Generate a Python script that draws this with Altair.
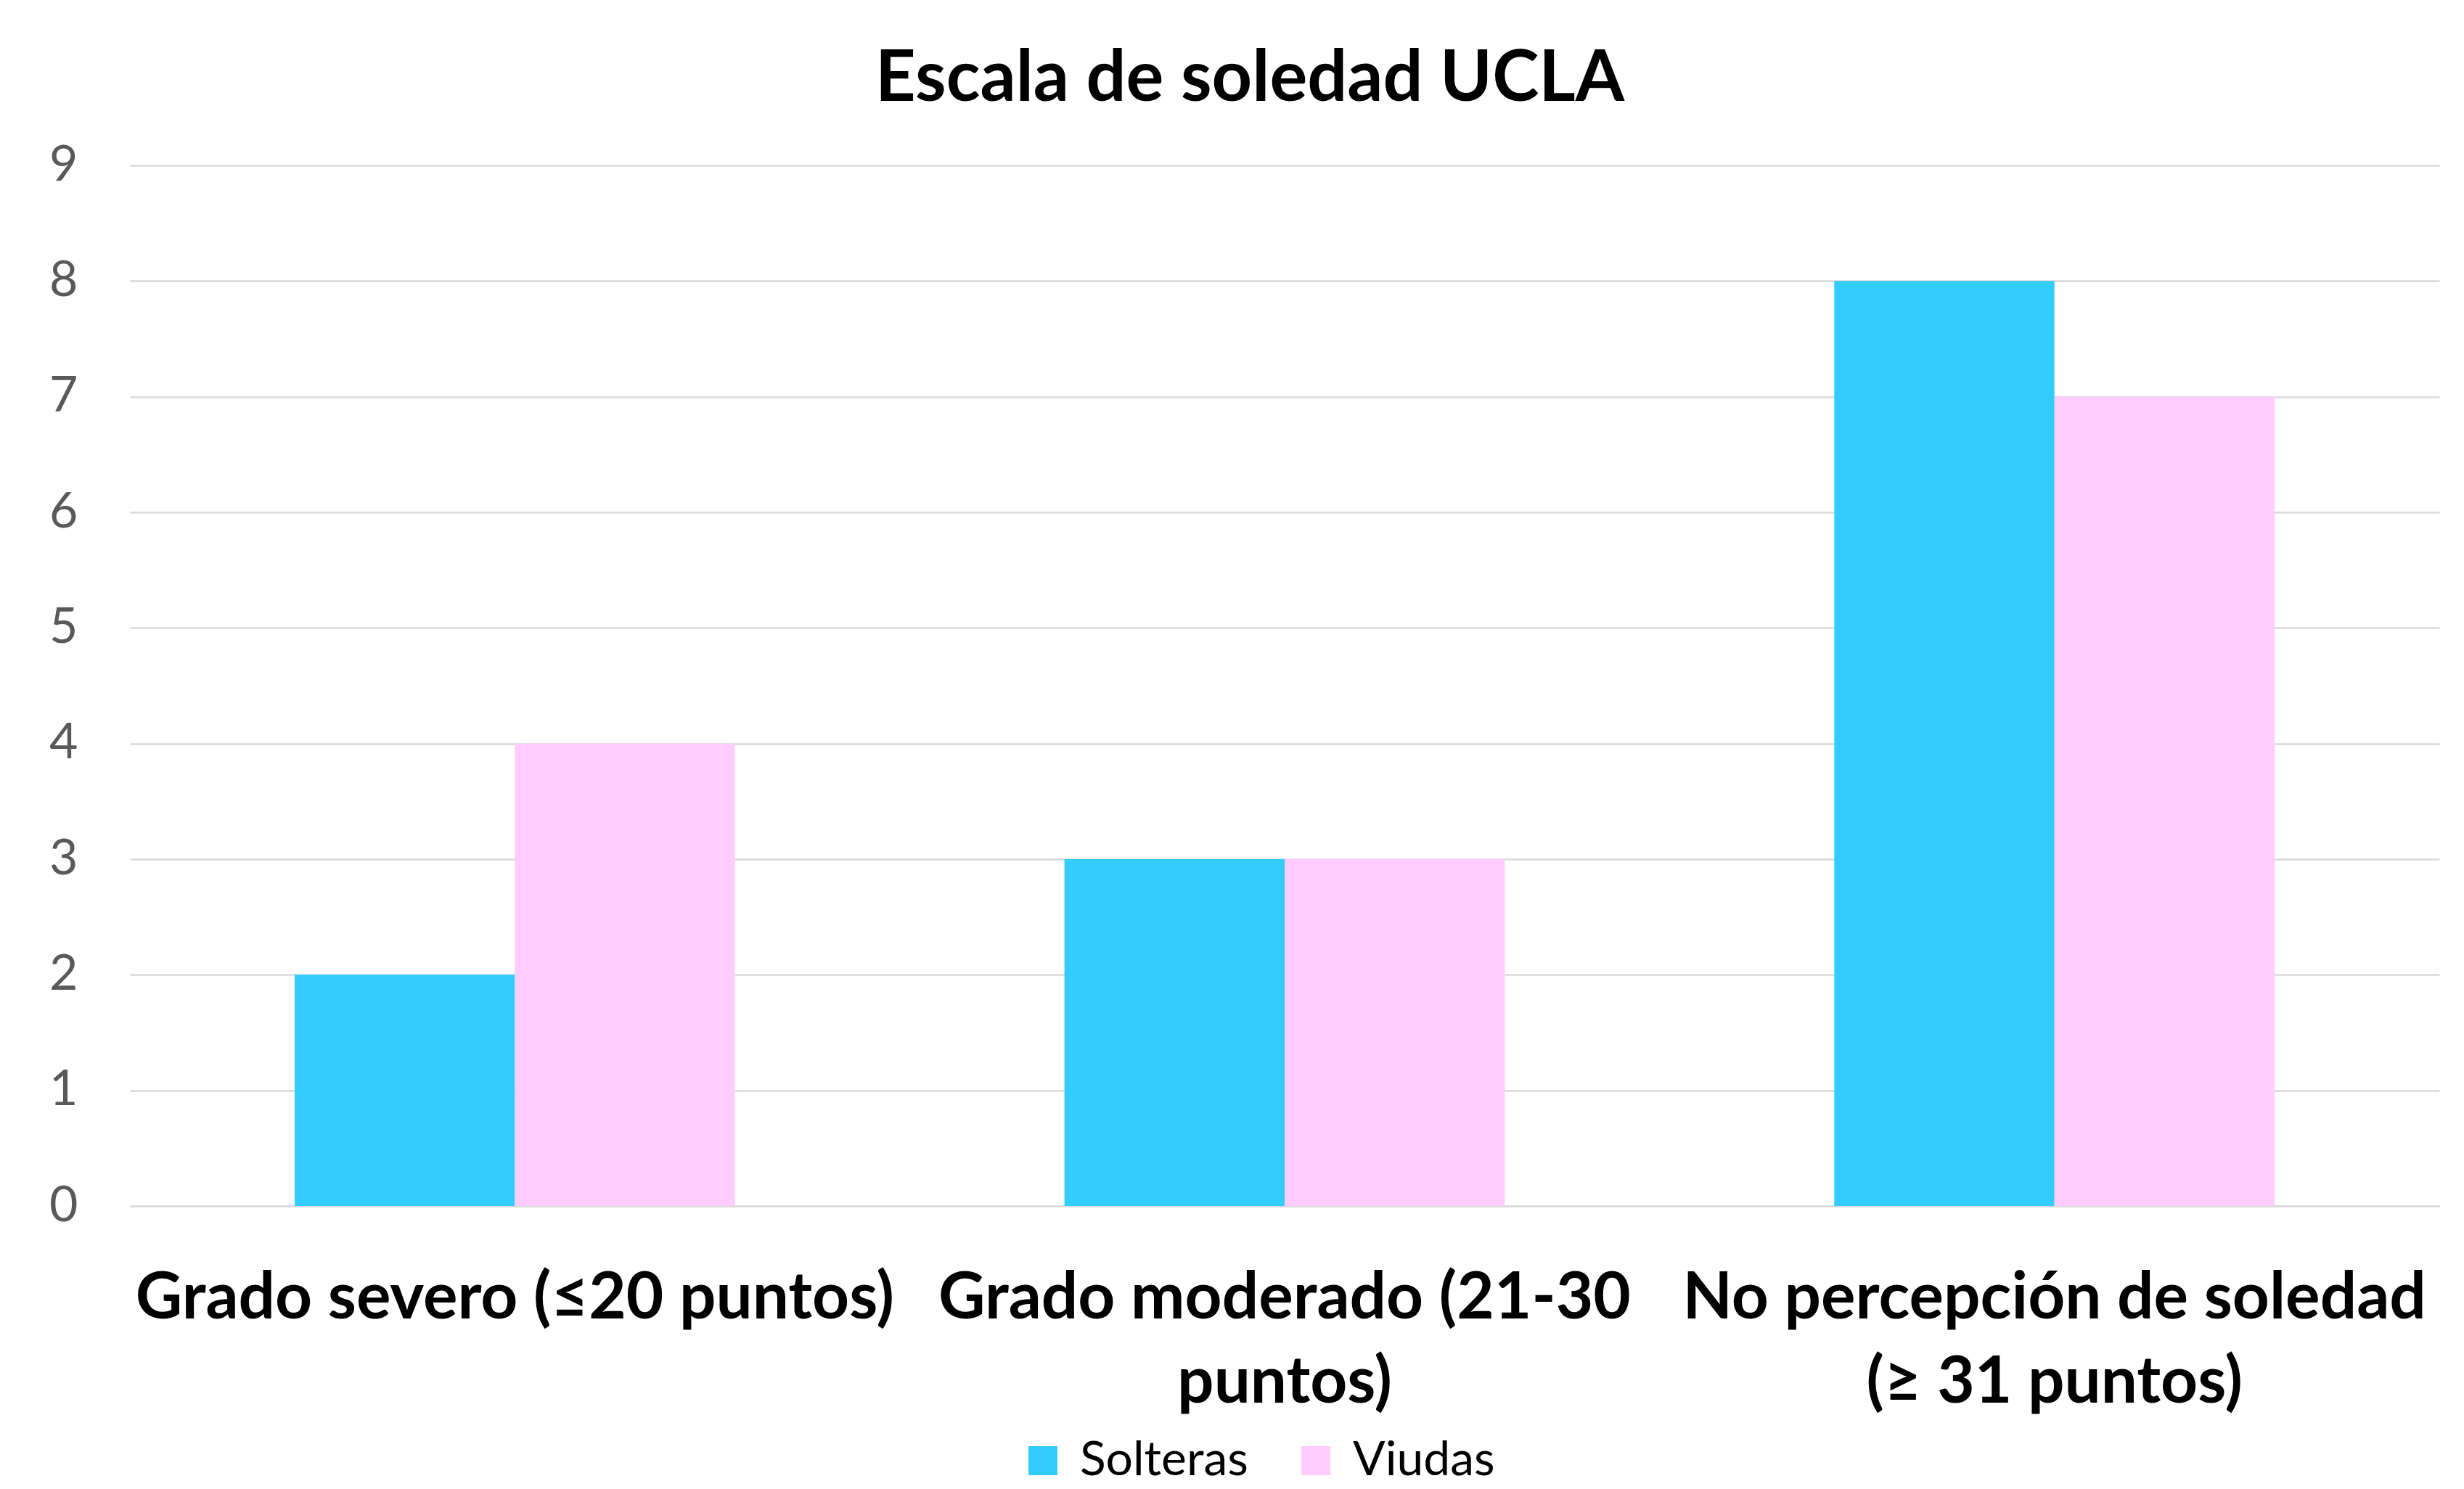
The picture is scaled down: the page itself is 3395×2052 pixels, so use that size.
import json
import altair as alt
import pandas as pd

# ---- data ----
categories = [
    "Grado severo (≤20 puntos)",
    "Grado moderado (21-30 puntos)",
    "No percepción de soledad (≥ 31 puntos)",
]
label_lines = [
    ["Grado severo (≤20 puntos)"],
    ["Grado moderado (21-30", "puntos)"],
    ["No percepción de soledad", "(≥ 31 puntos)"],
]
series = ["Solteras", "Viudas"]
solteras = [2, 3, 8]
viudas = [4, 3, 7]
colors = ["#33CCFF", "#FFCCFF"]
y_ticks = [0, 1, 2, 3, 4, 5, 6, 7, 8, 9]

rows = []
for c, s, v in zip(categories, solteras, viudas):
    rows.append({"cat": c, "serie": series[0], "val": s})
    rows.append({"cat": c, "serie": series[1], "val": v})
df = pd.DataFrame(rows)

expr = "datum.value"
for c, lines in reversed(list(zip(categories, label_lines))):
    arr = "[" + ",".join(json.dumps(l) for l in lines) + "]"
    expr = f"datum.value == {json.dumps(c)} ? {arr} : ({expr})"

FONT = "Lato"

chart = (
    alt.Chart(df)
    .mark_bar()
    .encode(
        x=alt.X(
            "cat:N",
            sort=categories,
            title=None,
            scale=alt.Scale(paddingInner=0.428, paddingOuter=0.214),
            axis=alt.Axis(
                labelExpr=expr,
                labelAngle=0,
                labelFont=FONT,
                labelFontSize=89,
                labelFontWeight="bold",
                labelColor="#000000",
                labelPadding=84,
                labelLineHeight=116,
                labelLimit=2000,
                ticks=False,
                domainColor="#D9D9D9",
                domainWidth=2.5,
                grid=False,
            ),
        ),
        xOffset=alt.XOffset("serie:N", sort=series),
        y=alt.Y(
            "val:Q",
            title=None,
            scale=alt.Scale(domain=[0, 9], nice=False),
            axis=alt.Axis(
                values=y_ticks,
                labelFont=FONT,
                labelFontSize=68,
                labelColor="#595959",
                labelPadding=72,
                ticks=False,
                domain=False,
                gridColor="#D9D9D9",
                gridWidth=2.5,
            ),
        ),
        color=alt.Color(
            "serie:N",
            sort=series,
            scale=alt.Scale(domain=series, range=colors),
            legend=alt.Legend(
                title=None,
                orient="none",
                legendX=1225,
                legendY=1752,
                direction="horizontal",
                symbolType="square",
                symbolSize=1600,
                symbolStrokeWidth=0,
                labelFont=FONT,
                labelFontSize=66,
                labelColor="#000000",
                labelOffset=18,
                labelLimit=1000,
                columnPadding=60,
            ),
        ),
    )
    .properties(
        width=3182,
        height=1434,
        padding={"left": 59, "top": 53, "right": 5, "bottom": 5},
        title=alt.TitleParams(
            "Escala de soledad UCLA",
            font=FONT,
            fontSize=97,
            fontWeight="bold",
            color="#000000",
            anchor="middle",
            dx=-48,
            offset=35,
        ),
    )
    .configure_view(stroke=None)
)

chart.save("out.html", embed_options={"renderer": "svg", "actions": False})
